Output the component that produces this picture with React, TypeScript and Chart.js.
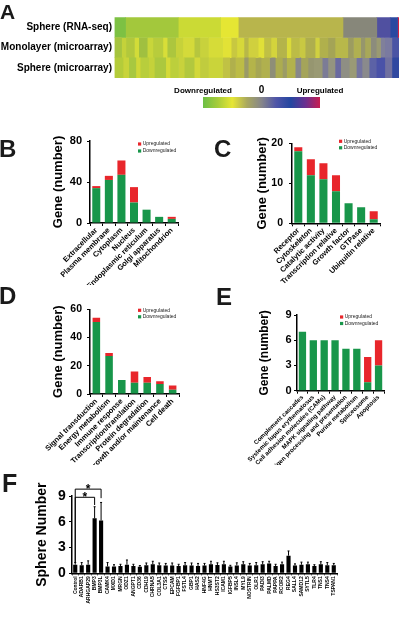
import React, { useEffect, useRef } from "react";
import { Chart, registerables } from "chart.js";

Chart.register(...registerables);

const FONT = "'Liberation Sans', Arial, Helvetica, sans-serif";
Chart.defaults.font.family = FONT;
Chart.defaults.color = "#000";

// ---------- Panel A : heat map ----------
const heatRows = ["Sphere (RNA-seq)", "Monolayer (microarray)", "Sphere (microarray)"];
const rnaSeqWidths = [3.9, 18.5, 14.9, 6.2, 36.8, 11.9, 4.7, 2.6, 0.5];
const rnaSeqColors = ["#7dc143", "#a3c83c", "#cbda35", "#e5e633", "#b8b54c", "#87877a", "#5050a0", "#2a48a0", "#d02040"];
const monolayerWidths = [2.5, 1.5, 3, 1.5, 3, 2, 3.5, 1.5, 3, 2.5, 4, 2, 3, 5, 3, 2, 2.5, 1.5, 3.5, 2, 2.5, 2, 3.5, 1.5, 3, 2, 3.5, 1.5, 3, 2.5, 4.5, 2, 2.5, 1.5, 2, 2, 1.5, 1.5, 2.5, 2.5];
const monolayerColors = ["#a6c43e", "#c4d23a", "#b2c83c", "#d2dc38", "#a0c040", "#c8d63a", "#b8cc3c", "#d8de38", "#acc63e", "#c6d23a", "#d4da3a", "#b6c63e", "#c8d23c", "#d6dc38", "#e2e236", "#c8c840", "#d6d83a", "#b8b848", "#d0d03e", "#e0e038", "#c0c044", "#d4d43c", "#b4b44a", "#dada3a", "#bcbc46", "#c8c842", "#aeae4e", "#d0d040", "#b0b04c", "#a4a456", "#b8b84a", "#9c9c60", "#b0b050", "#96966c", "#a8a858", "#8c8c7c", "#9a9a72", "#80809a", "#7a7aa0", "#4a54a4"];
const sphereArrayWidths = [3, 2, 2.5, 1.5, 3, 2, 4, 1.5, 3, 2, 3.5, 2, 3, 5, 2.5, 2, 3, 1.5, 2.5, 2, 3, 2, 2.5, 1.5, 3, 2, 2.5, 2, 3, 2, 2.5, 2, 3, 2.5, 2, 2.5, 2.5, 3, 2.5, 2.5];
const sphereArrayColors = ["#b4cc3a", "#c8d43a", "#a8c840", "#d0d838", "#b8ce3c", "#c4d23a", "#acc83e", "#d4da38", "#bccf3c", "#c8d23c", "#b2c83e", "#d2d83a", "#c0cc3e", "#cad43a", "#c0c244", "#b0b04c", "#bcbc46", "#9a9a68", "#b4b44a", "#a6a654", "#b0b04e", "#8e8e78", "#acac50", "#9c9c66", "#b2b24c", "#88888a", "#a4a45a", "#969670", "#9a9a74", "#7c7c96", "#949480", "#6a6aa0", "#8e8e84", "#9a9a76", "#7474a0", "#8a8a8c", "#5c62a6", "#4a52a8", "#7070a0", "#3048a0"];
const colorBarStops = ["#6cbf45", "#a6cc3a", "#e6e635", "#a9a85e", "#86868a", "#4f55a8", "#2446a0", "#6a3090", "#c81e50"];
const colorBarLabels = ["Downregulated", "0", "Upregulated"];

// ---------- Panels B-E ----------
const legendLabels = ["Downregulated", "Upregulated"];
const GREEN = "#18964a";
const RED = "#e8262b";

const locationCats = ["Extracellular", "Plasma membrane", "Cytoplasm", "Nucleus", "Endoplasmic reticulum", "Golgi apparatus", "Mitochondrion"];
const locationDown = [34, 42, 47, 20, 13, 6, 4];
const locationUp = [2, 4, 14, 15, 0, 0, 2];

const functionCats = ["Receptor", "Cytoskeleton", "Catalytic activity", "Transcription relative", "Growth factor", "GTPase", "Ubiquitin relative"];
const functionDown = [18, 12, 11, 8, 5, 4, 1];
const functionUp = [1, 4, 4, 4, 0, 0, 2];

const processCats = ["Signal transduction", "Energy metabolism", "Immune response", "Transcription/translation", "Protein degradation", "Growth and/or maintenance", "Cell death"];
const processDown = [51, 27, 10, 8, 8, 7, 3];
const processUp = [3, 2, 0, 8, 4, 2, 3];

const pathwayCats = ["Complement cascades", "Systemic lupus erythematosus", "Cell adhesion molecules (CAMs)", "MAPK signaling pathway", "Antigen processing and presentation", "Purine metabolism", "Spliceosome", "Apoptosis"];
const pathwayDown = [7, 6, 6, 6, 5, 5, 1, 3];
const pathwayUp = [0, 0, 0, 0, 0, 0, 3, 3];

// ---------- Panel F ----------
const genes = ["Control", "ADARB1", "ARHGAP29", "BMP3", "BMP3L", "CAMK4", "MXD1", "MRGN", "ODZ1", "ANGPT1", "CD36", "CDH19", "CHRNA5", "COL3A1", "CTSS", "EPCAM", "FGFBP1", "FSTL4", "GBP1", "HAS2", "HNF4G", "HNMT", "HS3ST2", "ICAM1", "IGFBP5", "INSL4", "MYL9", "NOSTRIN", "OLR1", "PADI3", "PALMD", "PAPPA", "RCOR2", "REG4", "SALL4", "SAMD12", "SYTL5", "TLR4", "TNS1", "TNS4", "TSPAN1"];
const sphereNumber = [1.0, 0.95, 1.0, 6.4, 6.15, 0.8, 0.8, 0.85, 1.0, 0.85, 0.75, 0.95, 1.05, 0.95, 0.9, 0.9, 0.85, 0.95, 0.9, 0.85, 0.9, 1.05, 0.97, 1.05, 0.78, 0.92, 1.05, 0.9, 0.95, 1.05, 1.15, 0.85, 1.05, 2.05, 0.9, 1.0, 1.05, 0.85, 1.05, 0.95, 0.95];
const sphereErr = [0.25, 0.3, 0.45, 1.35, 2.1, 0.45, 0.2, 0.2, 0.55, 0.2, 0.15, 0.25, 0.35, 0.25, 0.25, 0.3, 0.2, 0.3, 0.3, 0.3, 0.25, 0.35, 0.25, 0.35, 0.15, 0.3, 0.3, 0.25, 0.3, 0.3, 0.25, 0.2, 0.25, 0.55, 0.2, 0.3, 0.25, 0.15, 0.3, 0.3, 0.2];
const significance = [
  { from: 0, to: 4, top: 9.8, leftEnd: 1.25, rightEnd: 8.75, text: "*" },
  { from: 0, to: 3, top: 8.85, leftEnd: 1.25, rightEnd: 7.95, text: "*" },
];

// ---------- plugins ----------
const miniLegend = {
  id: "miniLegend",
  afterDraw(chart: any, _args: any, opts: any) {
    const { ctx, chartArea } = chart;
    const ds = chart.data.datasets.slice().reverse();
    ctx.save();
    ctx.font = `${opts.size}px ${FONT}`;
    ctx.textBaseline = "middle";
    ctx.textAlign = "left";
    ds.forEach((d: any, i: number) => {
      const x = chartArea.right + opts.dx;
      const y = chartArea.top + opts.dy + i * opts.gap;
      ctx.fillStyle = d.backgroundColor;
      ctx.fillRect(x, y - opts.box / 2, opts.box, opts.box);
      ctx.fillStyle = "#222";
      ctx.fillText(d.label, x + opts.box + 1.5, y);
    });
    ctx.restore();
  },
};

const errorBars = {
  id: "errorBars",
  afterDatasetsDraw(chart: any, _args: any, opts: any) {
    const { ctx } = chart;
    const yScale = chart.scales.y;
    const meta = chart.getDatasetMeta(0);
    const vals = chart.data.datasets[0].data;
    ctx.save();
    ctx.strokeStyle = "#000";
    ctx.lineWidth = 1;
    meta.data.forEach((el: any, i: number) => {
      const yTop = yScale.getPixelForValue(vals[i] + opts.errors[i]);
      ctx.beginPath();
      ctx.moveTo(el.x, el.y);
      ctx.lineTo(el.x, yTop);
      ctx.moveTo(el.x - 1, yTop);
      ctx.lineTo(el.x + 1, yTop);
      ctx.stroke();
    });
    ctx.restore();
  },
};

const brackets = {
  id: "brackets",
  afterDatasetsDraw(chart: any, _args: any, opts: any) {
    const { ctx } = chart;
    const x = chart.scales.x;
    const y = chart.scales.y;
    ctx.save();
    ctx.strokeStyle = "#000";
    ctx.lineWidth = 1;
    ctx.fillStyle = "#000";
    ctx.font = `bold 12px ${FONT}`;
    ctx.textAlign = "center";
    ctx.textBaseline = "alphabetic";
    for (const b of opts.items) {
      const x1 = x.getPixelForValue(b.from);
      const x2 = x.getPixelForValue(b.to);
      const yt = y.getPixelForValue(b.top);
      ctx.beginPath();
      ctx.moveTo(x1, y.getPixelForValue(b.leftEnd));
      ctx.lineTo(x1, yt);
      ctx.lineTo(x2, yt);
      ctx.lineTo(x2, y.getPixelForValue(b.rightEnd));
      ctx.stroke();
      ctx.fillText(b.text, (x1 + x2) / 2, yt + 4);
    }
    ctx.restore();
  },
};

// ---------- configs ----------
function heatConfig(): any {
  const datasets = monolayerWidths.map((_, i) => ({
    data: [rnaSeqWidths[i] ?? 0, monolayerWidths[i], sphereArrayWidths[i]],
    backgroundColor: [rnaSeqColors[i] ?? "rgba(0,0,0,0)", monolayerColors[i], sphereArrayColors[i]],
    borderWidth: 0,
    barPercentage: 1,
    categoryPercentage: 1,
  }));
  return {
    type: "bar",
    data: { labels: heatRows, datasets },
    options: {
      responsive: false,
      animation: false,
      indexAxis: "y",
      layout: { padding: { left: 0, right: 1, top: 12.3, bottom: 10 } },
      plugins: { legend: { display: false }, tooltip: { enabled: false } },
      scales: {
        x: { stacked: true, min: 0, max: 100, display: false },
        y: {
          stacked: true,
          grid: { display: false, drawTicks: false },
          border: { display: false },
          ticks: { font: { size: 10, weight: "bold" }, padding: 2.5, color: "#000" },
          afterFit: (s: any) => { s.width = 114.5; },
        },
      },
    },
  };
}

function colorBarConfig(): any {
  return {
    type: "bar",
    data: {
      labels: ["scale"],
      datasets: [{
        data: [[-1, 1]],
        borderWidth: 0,
        barPercentage: 1,
        categoryPercentage: 1,
        backgroundColor: (c: any) => {
          const ca = c.chart.chartArea;
          if (!ca) return "#888";
          const g = c.chart.ctx.createLinearGradient(ca.left, 0, ca.right, 0);
          colorBarStops.forEach((col, i) => g.addColorStop(i / (colorBarStops.length - 1), col));
          return g;
        },
      }],
    },
    options: {
      responsive: false,
      animation: false,
      indexAxis: "y",
      layout: { padding: { left: 53, right: 50, top: 0, bottom: 2 } },
      plugins: { legend: { display: false }, tooltip: { enabled: false } },
      scales: {
        y: { display: false },
        x: {
          position: "top",
          min: -1,
          max: 1,
          grid: { display: false, drawTicks: false },
          border: { display: false },
          ticks: {
            stepSize: 1,
            autoSkip: false,
            maxRotation: 0,
            padding: 1,
            color: "#000",
            callback: (v: number) => colorBarLabels[Math.round(v) + 1],
            font: (c: any) => ({ size: c.tick && c.tick.value === 0 ? 10 : 8, weight: "bold" }),
          },
          afterFit: (s: any) => { s.height = 13; },
        },
      },
    },
  };
}

function stackedConfig(cats: string[], down: number[], up: number[], cfg: any): any {
  return {
    type: "bar",
    data: {
      labels: cats,
      datasets: [
        { label: legendLabels[0], data: down, backgroundColor: GREEN, borderWidth: 0, barPercentage: cfg.barPct, categoryPercentage: cfg.barPct },
        { label: legendLabels[1], data: up, backgroundColor: RED, borderWidth: 0, barPercentage: cfg.barPct, categoryPercentage: cfg.barPct },
      ],
    },
    plugins: [miniLegend],
    options: {
      responsive: false,
      animation: false,
      layout: { padding: { left: cfg.padL, right: cfg.padR, top: cfg.padT, bottom: 0 } },
      plugins: {
        legend: { display: false },
        tooltip: { enabled: false },
        miniLegend: cfg.legend,
      },
      scales: {
        x: {
          stacked: true,
          grid: { display: true, drawOnChartArea: false, drawTicks: true, tickLength: 3, color: "#000", lineWidth: 1, offset: true },
          border: { display: true, color: "#000", width: 1.5 },
          ticks: { autoSkip: false, maxRotation: 45, minRotation: 45, padding: 0, color: "#000", font: { size: cfg.xFont, weight: "bold" } },
          afterFit: (s: any) => { s.height = cfg.xH; },
        },
        y: {
          stacked: true,
          min: 0,
          max: cfg.max,
          grid: { display: true, drawOnChartArea: false, drawTicks: true, tickLength: 3, color: "#000", lineWidth: 1 },
          border: { display: true, color: "#000", width: 1.5 },
          ticks: { stepSize: cfg.step, padding: cfg.tickPad, color: "#000", font: { size: cfg.yFont, weight: "bold" } },
          title: { display: true, text: "Gene (number)", color: "#000", font: { size: cfg.titleFont, weight: "bold" }, padding: { top: cfg.titlePad, bottom: 0 } },
          afterFit: (s: any) => { s.width = cfg.yW; },
        },
      },
    },
  };
}

function sphereConfig(): any {
  return {
    type: "bar",
    data: {
      labels: genes,
      datasets: [{ data: sphereNumber, backgroundColor: "#000", borderWidth: 0, barPercentage: 0.8, categoryPercentage: 0.8 }],
    },
    plugins: [errorBars, brackets],
    options: {
      responsive: false,
      animation: false,
      layout: { padding: { left: 25, right: 63, top: 26, bottom: 0 } },
      plugins: {
        legend: { display: false },
        tooltip: { enabled: false },
        errorBars: { errors: sphereErr },
        brackets: { items: significance },
      },
      scales: {
        x: {
          grid: { display: true, drawOnChartArea: false, drawTicks: true, tickLength: 2, color: "#000", lineWidth: 1, offset: true },
          border: { display: true, color: "#000", width: 1.5 },
          ticks: { autoSkip: false, maxRotation: 90, minRotation: 90, padding: 1, color: "#000", font: { size: 5, weight: "bold" } },
          afterFit: (s: any) => { s.height = 45.7; },
        },
        y: {
          min: 0,
          max: 9,
          grid: { display: true, drawOnChartArea: false, drawTicks: true, tickLength: 3, color: "#000", lineWidth: 1 },
          border: { display: true, color: "#000", width: 1.5 },
          ticks: { stepSize: 3, padding: 3.3, color: "#000", font: { size: 14, weight: "bold" } },
          title: { display: true, text: "Sphere Number", color: "#000", font: { size: 14, weight: "bold" }, padding: { top: 8.3, bottom: 0 } },
          afterFit: (s: any) => { s.width = 47; },
        },
      },
    },
  };
}

function ChartCanvas({ left, top, width, height, make }: { left: number; top: number; width: number; height: number; make: () => any }) {
  const ref = useRef<HTMLCanvasElement>(null);
  useEffect(() => {
    const chart = new Chart(ref.current as HTMLCanvasElement, make());
    return () => chart.destroy();
  }, []);
  return (
    <canvas
      ref={ref}
      width={width}
      height={height}
      style={{ position: "absolute", left, top, width, height }}
    />
  );
}

function Letter({ ch, left, capTop, size }: { ch: string; left: number; capTop: number; size: number }) {
  const top = capTop - 0.1305 * size;
  return (
    <div
      style={{
        position: "absolute",
        left,
        top,
        fontFamily: FONT,
        fontWeight: "bold",
        fontSize: size,
        lineHeight: 1,
        color: "#1a1a1a",
      }}
    >
      {ch}
    </div>
  );
}

export default function App() {
  return (
    <div style={{ position: "absolute", left: 0, top: 0, width: 400, height: 619, background: "#fff", overflow: "hidden" }}>
      <ChartCanvas left={0} top={5} width={400} height={83} make={heatConfig} />
      <ChartCanvas left={150} top={84} width={220} height={26} make={colorBarConfig} />
      <ChartCanvas
        left={0} top={125} width={200} height={160}
        make={() => stackedConfig(locationCats, locationDown, locationUp, {
          padL: 40, yW: 50, padR: 22, padT: 16, xH: 62, max: 80, step: 40, tickPad: 5,
          titlePad: 10.2, titleFont: 13, yFont: 11, xFont: 7.5, barPct: 0.8,
          legend: { dx: -40, dy: 3, gap: 7, box: 3.2, size: 5 },
        })}
      />
      <ChartCanvas
        left={200} top={125} width={200} height={160}
        make={() => stackedConfig(functionCats, functionDown, functionUp, {
          padL: 30, yW: 62, padR: 20, padT: 18.3, xH: 61.7, max: 20, step: 10, tickPad: 6,
          titlePad: 24.7, titleFont: 13, yFont: 10.5, xFont: 7.5, barPct: 0.8,
          legend: { dx: -41, dy: -2, gap: 6.5, box: 3.2, size: 5 },
        })}
      />
      <ChartCanvas
        left={0} top={290} width={200} height={175}
        make={() => stackedConfig(processCats, processDown, processUp, {
          padL: 40, yW: 50, padR: 21, padT: 19.3, xH: 71, max: 60, step: 20, tickPad: 5,
          titlePad: 10.2, titleFont: 13, yFont: 10.5, xFont: 7.5, barPct: 0.77,
          legend: { dx: -41, dy: 1, gap: 6.5, box: 3.2, size: 5 },
        })}
      />
      <ChartCanvas
        left={200} top={290} width={200} height={175}
        make={() => stackedConfig(pathwayCats, pathwayDown, pathwayUp, {
          padL: 35, yW: 62, padR: 16, padT: 25, xH: 74.3, max: 9, step: 3, tickPad: 2.3,
          titlePad: 22.8, titleFont: 12, yFont: 11, xFont: 6.2, barPct: 0.82,
          legend: { dx: -44, dy: 2, gap: 6.5, box: 3.2, size: 5 },
        })}
      />
      <ChartCanvas left={0} top={470} width={400} height={149} make={sphereConfig} />
      <Letter ch="A" left={0} capTop={4} size={21} />
      <Letter ch="B" left={-1} capTop={140} size={24} />
      <Letter ch="C" left={214} capTop={140} size={24} />
      <Letter ch="D" left={-1} capTop={287} size={24} />
      <Letter ch="E" left={216} capTop={288} size={24} />
      <Letter ch="F" left={2} capTop={474} size={25} />
    </div>
  );
}
